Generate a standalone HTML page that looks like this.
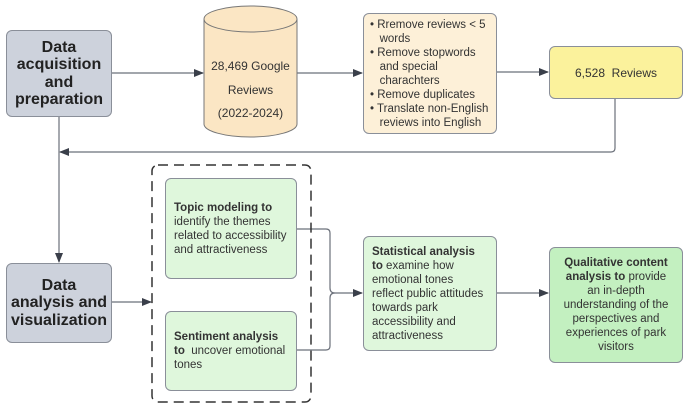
<!DOCTYPE html>
<html><head><meta charset="utf-8"><style>
body{margin:0;width:685px;height:410px;background:#fff;font-family:"Liberation Sans",sans-serif;position:relative;overflow:hidden}
.b{position:absolute;box-sizing:border-box;border:1px solid #8a8f99;border-radius:6px;display:flex;align-items:center;justify-content:center;text-align:center;color:#333;white-space:nowrap}
.g{background:#cdd2dc;font-weight:bold;font-size:16px;line-height:17.5px;color:#222}
.t{position:absolute;font-size:12px;line-height:14px;color:#333}
</style></head><body>
<svg width="685" height="410" style="position:absolute;left:0;top:0">
<defs><marker id="a" markerWidth="10" markerHeight="8" refX="9" refY="4" orient="auto" markerUnits="userSpaceOnUse"><path d="M0,0L10,4L0,8z" fill="#3a3f4a"/></marker></defs>
<g stroke="#6b707a" stroke-width="1.2" fill="none">
<line x1="111" y1="73" x2="203" y2="73" marker-end="url(#a)"/>
<line x1="297" y1="73" x2="362" y2="73" marker-end="url(#a)"/>
<line x1="496" y1="72" x2="548" y2="72" marker-end="url(#a)"/>
<path d="M615,98 V148 Q615,152 611,152 H60" marker-end="url(#a)"/>
<line x1="59" y1="116" x2="59" y2="262" marker-end="url(#a)"/>
<line x1="111" y1="302" x2="151" y2="302" marker-end="url(#a)"/>
<path d="M297,229 H326 Q330,229 330,233 V288 Q330,293 335,293 Q330,293 330,298 V346 Q330,350 326,350 H297"/>
<line x1="335" y1="293" x2="362" y2="293" marker-end="url(#a)"/>
<line x1="496" y1="293" x2="548" y2="293" marker-end="url(#a)"/>
</g>
<rect x="152" y="165" width="159" height="237" rx="6" fill="none" stroke="#333" stroke-width="1.5" stroke-dasharray="10,6"/>
<path d="M204,19 V124 A46.5,13 0 0 0 297,124 V19" fill="#fbe6c4" stroke="#777" stroke-width="1"/>
<ellipse cx="250.5" cy="19" rx="46.5" ry="13" fill="#fbe6c4" stroke="#777" stroke-width="1"/>
</svg>
<div class="b g" style="left:6px;top:30px;width:106px;height:87px">Data<br>acquisition<br>and<br>preparation</div>
<div class="b g" style="left:6px;top:263px;width:106px;height:80px">Data<br>analysis and<br>visualization</div>
<div class="t" style="left:204px;top:55px;width:93px;text-align:center;line-height:23.5px;font-size:12px">28,469 Google<br>Reviews<br>(2022-2024)</div>
<div class="b" style="left:363px;top:13px;width:134px;height:121px;background:#fdf0d8;justify-content:flex-start;align-items:flex-start;text-align:left;padding:4px 0 0 6px;font-size:11.5px;line-height:14px">
<div>• Rremove reviews &lt; 5<br>&nbsp;&nbsp;&nbsp;words<br>• Remove stopwords<br>&nbsp;&nbsp;&nbsp;and special<br>&nbsp;&nbsp;&nbsp;charachters<br>• Remove duplicates<br>• Translate non-English<br>&nbsp;&nbsp;&nbsp;reviews into English</div></div>
<div class="b" style="left:549px;top:46px;width:134px;height:53px;background:#fbf29c;font-size:12px">6,528&nbsp; Reviews</div>
<div class="b" style="left:165px;top:178px;width:132px;height:101px;background:#dff7dc;justify-content:flex-start;text-align:left;padding-left:8px;font-size:11.5px;line-height:14px"><div><b>Topic modeling to</b><br>identify the themes<br>related to accessibility<br>and attractiveness</div></div>
<div class="b" style="left:165px;top:311px;width:132px;height:80px;background:#dff7dc;justify-content:flex-start;text-align:left;padding-left:8px;font-size:11.5px;line-height:14px"><div><b>Sentiment analysis<br>to</b>&nbsp; uncover emotional<br>tones</div></div>
<div class="b" style="left:363px;top:236px;width:134px;height:115px;background:#dff7dc;justify-content:flex-start;text-align:left;padding-left:8px;font-size:11.5px;line-height:14px"><div><b>Statistical analysis<br>to</b> examine how<br>emotional tones<br>reflect public attitudes<br>towards park<br>accessibility and<br>attractiveness</div></div>
<div class="b" style="left:549px;top:247px;width:134px;height:116px;background:#c3f0c0;font-size:11.5px;line-height:14px"><div><b>Qualitative content<br>analysis to</b> provide<br>an in-depth<br>understanding of the<br>perspectives and<br>experiences of park<br>visitors</div></div>
</body></html>
